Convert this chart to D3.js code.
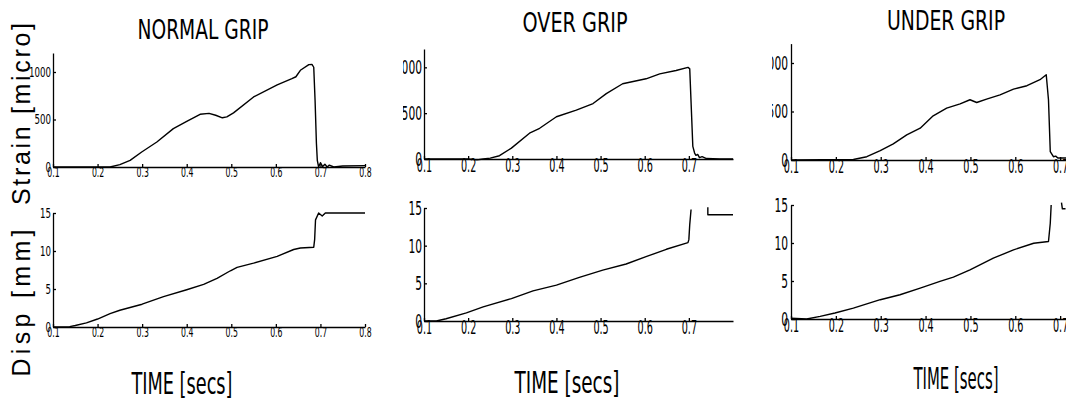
<!DOCTYPE html>
<html>
<head>
<meta charset="utf-8">
<script src="https://cdn.jsdelivr.net/npm/d3@7"></script>
<style>
  body { margin: 0; background: #fff; }
  .narrow { font-family: "Liberation Sans Narrow", "Arial Narrow", "DejaVu Sans Condensed", sans-serif; }
</style>
</head>
<body>
<div class="container"></div>
<script>
// tick values
var timeTicks = [0.1, 0.2, 0.3, 0.4, 0.5, 0.6, 0.7, 0.8];
var timeTicksShort = [0.1, 0.2, 0.3, 0.4, 0.5, 0.6, 0.7];
var strainTicks = [0, 500, 1000];
var dispTicks = [0, 5, 10, 15];

var titles = ['NORMAL GRIP', 'OVER GRIP', 'UNDER GRIP'];

// [time (s), strain (micro)]
var normalStrain = [[0.1,0],[0.2,0],[0.228,0],[0.25,25],[0.273,70],[0.299,158],[0.333,263],[0.37,404],[0.4,480],[0.43,555],[0.45,565],[0.465,545],[0.48,518],[0.49,528],[0.505,570],[0.55,737],[0.603,865],[0.636,930],[0.645,950],[0.655,1018],[0.674,1078],[0.681,1080],[0.685,1050],[0.688,700],[0.691,250],[0.693,70],[0.696,0],[0.7,45],[0.705,5],[0.71,30],[0.715,0],[0.72,20],[0.73,0],[0.75,10],[0.8,15]];
var overStrain = [[0.1,0],[0.2,0],[0.22,-10],[0.234,0],[0.25,10],[0.271,36],[0.298,119],[0.339,281],[0.362,335],[0.4,461],[0.445,533],[0.483,605],[0.513,713],[0.55,821],[0.603,875],[0.634,929],[0.671,965],[0.698,1000],[0.702,983],[0.706,500],[0.709,137],[0.713,65],[0.716,40],[0.72,50],[0.724,15],[0.73,25],[0.74,5],[0.77,0],[0.8,0]];
var underStrain = [[0.1,0],[0.239,5],[0.269,34],[0.299,97],[0.328,166],[0.358,259],[0.388,328],[0.417,455],[0.447,534],[0.477,579],[0.499,621],[0.514,593],[0.536,628],[0.566,672],[0.596,731],[0.626,766],[0.655,828],[0.669,879],[0.674,621],[0.678,86],[0.685,34],[0.69,40],[0.695,20],[0.72,20]];

// [time (s), displacement (mm)]  null = gap in trace
var normalDisp = [[0.1,0],[0.1375,0.05],[0.15,0.2],[0.175,0.55],[0.2,1.05],[0.228,1.75],[0.25,2.2],[0.3,3.0],[0.348,4.0],[0.4,4.9],[0.438,5.6],[0.468,6.4],[0.498,7.4],[0.513,7.85],[0.55,8.4],[0.603,9.3],[0.64,10.2],[0.655,10.4],[0.685,10.5],[0.687,11.5],[0.689,14.1],[0.696,15.0],[0.704,14.6],[0.711,15.0],[0.8,15.0]];
var overDisp = [[0.1,0],[0.128,0],[0.15,0.3],[0.196,1.07],[0.234,1.87],[0.298,2.98],[0.347,4.0],[0.4,4.76],[0.452,5.8],[0.505,6.76],[0.558,7.57],[0.603,8.54],[0.649,9.52],[0.698,10.4],[0.7,10.8],[0.702,12.8],[0.705,14.8],[0.705,null],[0.743,15.1],[0.743,14.1],[0.8,14.1]];
var underDisp = [[0.1,0.1],[0.135,0],[0.165,0.35],[0.198,0.79],[0.239,1.44],[0.299,2.54],[0.343,3.19],[0.388,4.07],[0.432,4.94],[0.462,5.5],[0.499,6.47],[0.551,8.0],[0.596,9.1],[0.641,9.97],[0.674,10.2],[0.678,12.6],[0.68,15],[0.68,null],[0.703,15.3],[0.705,14.5],[0.712,14.5]];

var svg = d3.select('.container')
            .append('svg')
                .attr('width', 1066)
                .attr('height', 402);

var defs = svg.append('defs');
defs.append('clipPath').attr('id', 'clip2')
    .append('rect').attr('x', 403).attr('y', 0).attr('width', 340).attr('height', 190);
defs.append('clipPath').attr('id', 'clip3')
    .append('rect').attr('x', 772).attr('y', 0).attr('width', 300).attr('height', 190);

// squeeze tick labels to the narrow look of the original
function squeeze(sel, dw) {
    sel.each(function() {
        var s = this.textContent;
        var n = s.replace(/\./g, '').length;
        var d = s.length - n;
        d3.select(this)
            .attr('textLength', n * dw + d * dw * 0.25)
            .attr('lengthAdjust', 'spacingAndGlyphs');
    });
}

function panel(p) {
    var g = svg.append('g');
    if (p.clip) g.attr('clip-path', 'url(#' + p.clip + ')');

    var x = d3.scaleLinear().domain([0.1, 0.8]).range([p.x0, p.x1]);
    var y = d3.scaleLinear().domain(p.yDomain).range([p.yb, p.yt]);

    var xAxis = d3.axisBottom(x)
                    .tickValues(p.xTicks)
                    .tickSizeInner(-3)
                    .tickSizeOuter(0)
                    .tickPadding(p.xPad)
                    .tickFormat(d3.format('.1f'));
    var yAxis = d3.axisLeft(y)
                    .tickValues(p.yTicks)
                    .tickSizeInner(-3)
                    .tickSizeOuter(0)
                    .tickPadding(p.yPad)
                    .tickFormat(d3.format('d'));

    var gx = g.append('g')
                .attr('transform', 'translate(0,' + p.yb + ')')
                .call(xAxis);
    var gy = g.append('g')
                .attr('transform', 'translate(' + p.x0 + ',0)')
                .call(yAxis);

    [gx, gy].forEach(function(a) {
        a.attr('font-family', null).attr('font-size', null);
        a.selectAll('path, line').style('stroke', '#000').style('stroke-width', 1.3);
        a.selectAll('text')
            .attr('class', 'narrow')
            .style('font-size', p.fs + 'px')
            .style('fill', '#000')
            .call(squeeze, p.dw);
    });

    var line = d3.line()
                .defined(function(d) { return d[1] !== null; })
                .x(function(d) { return x(d[0]); })
                .y(function(d) { return y(d[1]); });

    g.append('path')
        .datum(p.data)
        .attr('d', line)
        .style('fill', 'none')
        .style('stroke', '#000')
        .style('stroke-width', 1.4)
        .style('stroke-linejoin', 'round');
}

// top row: strain
panel({ data: normalStrain, x0: 53, x1: 365, yb: 167, yt: 53, yDomain: [0, 1200],
        xTicks: timeTicks, yTicks: strainTicks, fs: 14, dw: 5.5, xPad: 0, yPad: 2 });
panel({ data: overStrain, x0: 424, x1: 733, yb: 159, yt: 49, yDomain: [0, 1200],
        xTicks: timeTicksShort, yTicks: strainTicks, fs: 20, dw: 6.8, xPad: -1, yPad: 2, clip: 'clip2' });
panel({ data: underStrain, x0: 791, x1: 1105, yb: 160, yt: 43.6, yDomain: [0, 1200],
        xTicks: timeTicksShort, yTicks: strainTicks, fs: 20, dw: 6.8, xPad: -1, yPad: 3, clip: 'clip3' });

// bottom row: displacement
panel({ data: normalDisp, x0: 53, x1: 365, yb: 327, yt: 213, yDomain: [0, 15],
        xTicks: timeTicks, yTicks: dispTicks, fs: 14, dw: 5.5, xPad: 0, yPad: 2 });
panel({ data: overDisp, x0: 424, x1: 733, yb: 321, yt: 208, yDomain: [0, 15],
        xTicks: timeTicksShort, yTicks: dispTicks, fs: 20, dw: 6.8, xPad: -1, yPad: 2 });
panel({ data: underDisp, x0: 791, x1: 1105, yb: 319, yt: 205, yDomain: [0, 15],
        xTicks: timeTicksShort, yTicks: dispTicks, fs: 20, dw: 6.8, xPad: -1, yPad: 3 });

// titles
var titlePos = [[203, 39, 131], [575, 32, 105], [946, 30, 118]];
svg.selectAll('.title')
    .data(titles)
    .enter()
    .append('text')
        .attr('class', 'title narrow')
        .attr('x', function(d, i) { return titlePos[i][0]; })
        .attr('y', function(d, i) { return titlePos[i][1]; })
        .attr('text-anchor', 'middle')
        .attr('textLength', function(d, i) { return titlePos[i][2]; })
        .attr('lengthAdjust', 'spacingAndGlyphs')
        .style('font-size', '26px')
        .text(function(d) { return d; });

// x axis labels
var timePos = [[182, 394, 101], [567, 393, 105], [956, 389, 85]];
svg.selectAll('.xlab')
    .data(timePos)
    .enter()
    .append('text')
        .attr('class', 'xlab narrow')
        .attr('x', function(d) { return d[0]; })
        .attr('y', function(d) { return d[1]; })
        .attr('text-anchor', 'middle')
        .attr('textLength', function(d) { return d[2]; })
        .attr('lengthAdjust', 'spacingAndGlyphs')
        .style('font-size', '30px')
        .text('TIME [secs]');

// y axis labels
svg.append('text')
    .attr('transform', 'translate(30,114) rotate(-90)')
    .attr('text-anchor', 'middle')
    .attr('textLength', 182)
    .attr('lengthAdjust', 'spacing')
    .style('font-family', '"Liberation Sans", Arial, sans-serif')
    .style('font-size', '25px')
    .text('Strain [micro]');

svg.append('text')
    .attr('transform', 'translate(30,303) rotate(-90)')
    .attr('text-anchor', 'middle')
    .attr('textLength', 147)
    .attr('lengthAdjust', 'spacing')
    .style('font-family', '"Liberation Sans", Arial, sans-serif')
    .style('font-size', '25px')
    .text('Disp [mm]');
</script>
</body>
</html>
